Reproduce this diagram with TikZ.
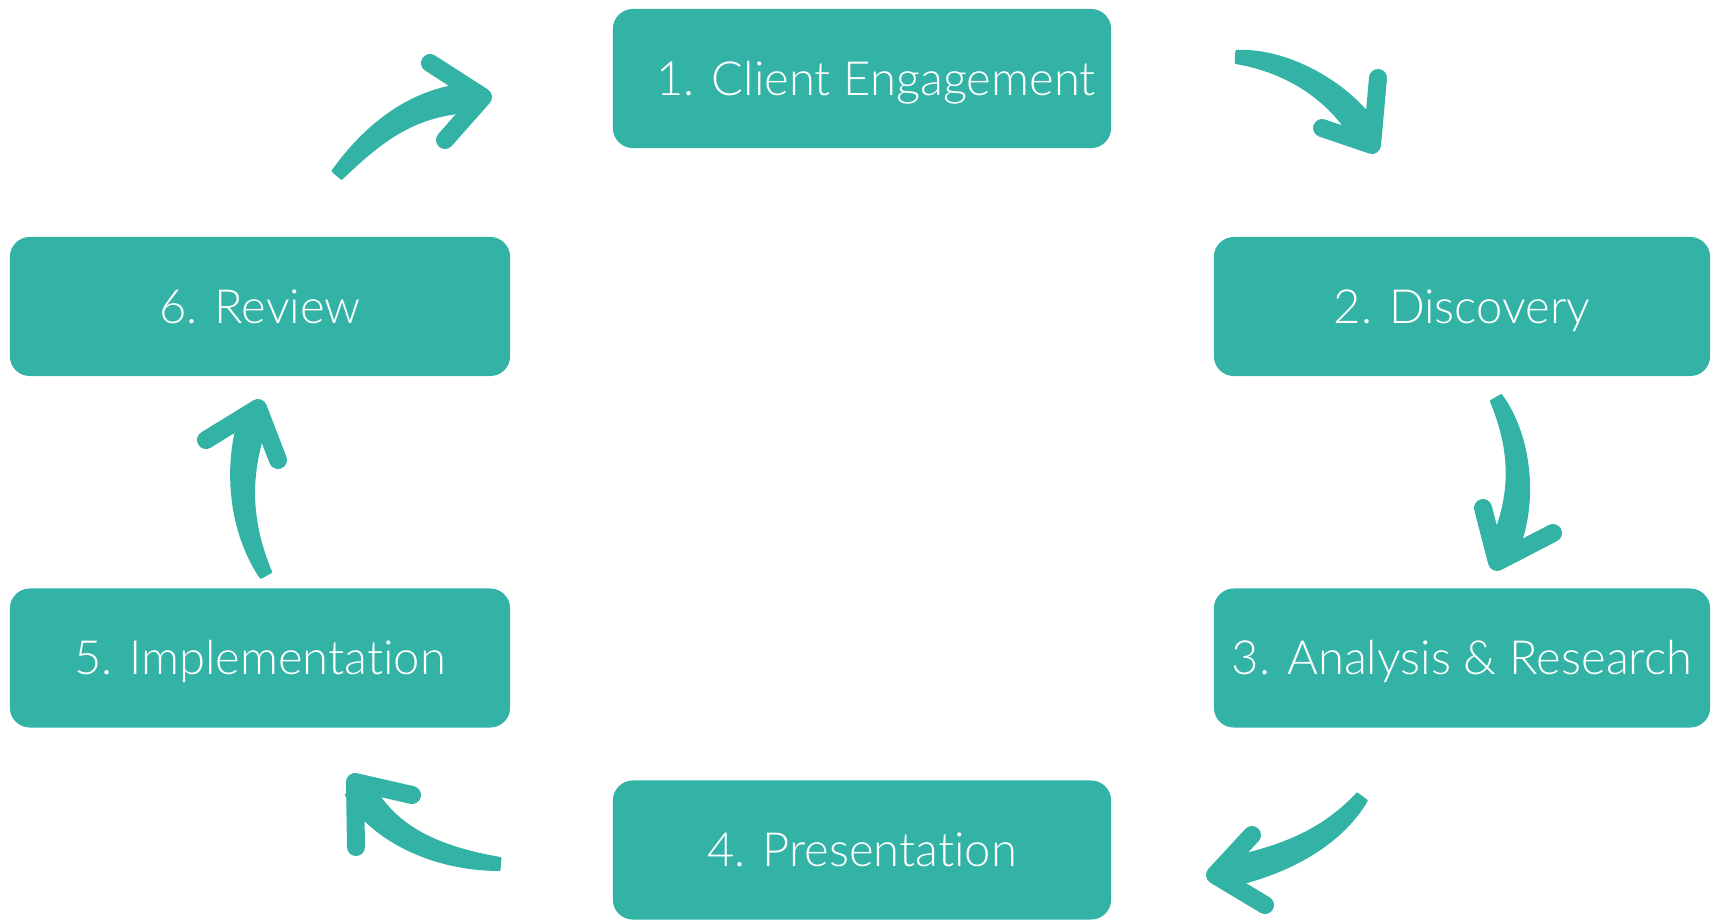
\documentclass[tikz,border=0pt]{standalone}
\usepackage{fontspec}
\IfFontExistsTF{Lato Light}{\setmainfont{Lato Light}[Ligatures=NoCommon]}{\setmainfont{Lato}[Ligatures=NoCommon]}
\usetikzlibrary{calc}
\definecolor{tealc}{HTML}{33B3A6}
\tikzset{
  stepbox/.style={fill=tealc, rounded corners=0.2cm, inner sep=0pt,
    minimum width=4.98cm, minimum height=1.39cm, text=white,
    font=\fontsize{13.4}{16}\selectfont, text height=9.6pt, text depth=0pt},
  brush/.style={fill=tealc, draw=tealc, line width=0.02cm, line join=round},
  brushhead/.style={draw=tealc, line width=0.18cm, line join=round, line cap=round}
}
% #1 tail, #2 control 1, #3 control 2, #4 apex, #5 arm end 1, #6 arm end 2
\newcommand\brusharrow[6]{%
  \coordinate (se) at ($(#4)!0.07cm!(#3)$);
  \filldraw[brush] ($(#1)!0.06cm!90:(#2)$) .. controls ($(#2)!0.12cm!-90:(#1)$) and ($(#3)!0.14cm!90:(se)$) .. ($(se)!0.14cm!-90:(#3)$)
    -- ($(se)!0.14cm!90:(#3)$) .. controls ($(#3)!0.14cm!-90:(se)$) and ($(#2)!0.12cm!90:(#1)$) .. ($(#1)!0.06cm!-90:(#2)$) -- cycle;
  \filldraw[brush] ($(#4)!0.45!(#5)$) -- (#4) -- ($(#4)!0.45!(#6)$) -- cycle;
  \draw[brushhead] (#5) -- (#4) -- (#6);
}
\begin{document}
\begin{tikzpicture}[x=0.01cm,y=-0.01cm]
\useasboundingbox (0,0) rectangle (1711,920);
\node[stepbox] (s1) at (862,78.5) {\hspace*{0.28cm}1. Client Engagement};
\node[stepbox, minimum width=4.96cm] (s2) at (1462,306.5) {2. Discovery};
\node[stepbox, minimum width=4.96cm] (s3) at (1462,658) {3. Analysis \& Research};
\node[stepbox] (s4) at (862,850) {4. Presentation};
\node[stepbox, minimum width=5cm] (s5) at (260,658) {5. Implementation};
\node[stepbox, minimum width=5cm] (s6) at (260,306.5) {6. Review};
% arrow 6 -> 1
\coordinate (at) at (337,175); \coordinate (ac1) at (380,125); \coordinate (ac2) at (420,100);
\coordinate (ap) at (483,97); \coordinate (aa) at (430,63); \coordinate (ab) at (445,140);
\brusharrow{at}{ac1}{ac2}{ap}{aa}{ab}
% arrow 1 -> 2
\coordinate (ct) at (1236,57); \coordinate (cc1) at (1290,60); \coordinate (cc2) at (1345,95);
\coordinate (cp) at (1372,145); \coordinate (ca) at (1322,128); \coordinate (cb) at (1378,78);
\brusharrow{ct}{cc1}{cc2}{cp}{ca}{cb}
% arrow 2 -> 3
\coordinate (bt) at (1496,398); \coordinate (bc1) at (1520,440); \coordinate (bc2) at (1528,500);
\coordinate (bp) at (1497,562); \coordinate (ba) at (1483,508); \coordinate (bb) at (1553,533);
\brusharrow{bt}{bc1}{bc2}{bp}{ba}{bb}
% arrow 3 -> 4
\coordinate (dt) at (1362,797); \coordinate (dc1) at (1330,840); \coordinate (dc2) at (1280,862);
\coordinate (dp) at (1215,875); \coordinate (da) at (1252,835); \coordinate (db) at (1265,905);
\brusharrow{dt}{dc1}{dc2}{dp}{da}{db}
% arrow 4 -> 5
\coordinate (et) at (500,864); \coordinate (ec1) at (430,858); \coordinate (ec2) at (380,830);
\coordinate (ep) at (355,782); \coordinate (ea) at (412,795); \coordinate (eb) at (356,847);
\brusharrow{et}{ec1}{ec2}{ep}{ea}{eb}
% arrow 5 -> 6
\coordinate (ft) at (266,575); \coordinate (fc1) at (236,520); \coordinate (fc2) at (238,460);
\coordinate (fp) at (258,408); \coordinate (fa) at (206,440); \coordinate (fb) at (278,460);
\brusharrow{ft}{fc1}{fc2}{fp}{fa}{fb}
\end{tikzpicture}
\end{document}
